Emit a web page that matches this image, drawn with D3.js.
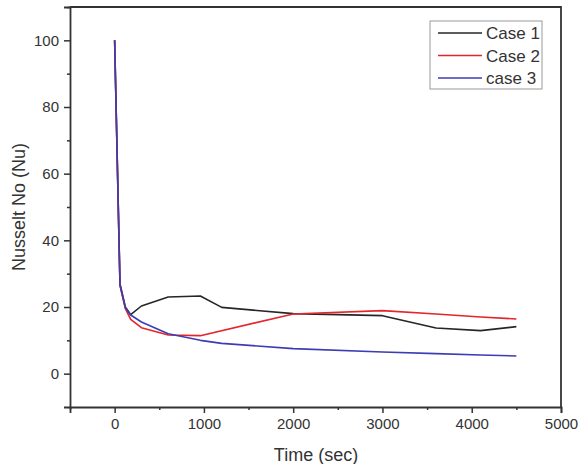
<!DOCTYPE html>
<html lang="en">
	<head>
		<meta charset="UTF-8" />
		<title>Nusselt No vs Time</title>
		<script src="https://d3js.org/d3.v7.min.js"></script>
		<style>
			body { margin: 0; background: #fff; }
			text { font-family: Arial, 'Liberation Sans', sans-serif; fill: #333; }
			.series { fill: none; stroke-width: 1.6; stroke-linejoin: round; }
		</style>
	</head>
	<body>
		<svg id="chart" width="582" height="464"></svg>
		<script>
			// time points (sec)
			var times = [0, 60, 120, 180, 300, 600, 960, 1200, 2000, 3000, 3600, 4100, 4500]
			var timesCase2 = [0, 60, 120, 180, 300, 600, 960, 2000, 3000, 3600, 4100, 4500]

			// Nusselt number per case
			var nuCase1 = [100, 27, 20, 17.7, 20.3, 23.0, 23.3, 19.9, 18.0, 17.4, 13.7, 12.9, 14.1]
			var nuCase2 = [100, 26.5, 19.5, 16.3, 13.8, 11.6, 11.4, 17.9, 18.9, 17.9, 17.0, 16.4]
			var nuCase3 = [100, 26.5, 19.8, 17.6, 15.5, 12.0, 10.0, 9.1, 7.5, 6.5, 6.0, 5.6, 5.3]

			var seriesNames = ['Case 1', 'Case 2', 'case 3']
			var seriesColors = ['#262626', '#e3262b', '#3c3cb4']

			var xTicks = [0, 1000, 2000, 3000, 4000, 5000]
			var yTicks = [0, 20, 40, 60, 80, 100]

			var svg = d3.select('#chart')
			var plotLeft = 70, plotRight = 561, plotTop = 7, plotBottom = 407

			var x = d3.scaleLinear().domain([-500, 5000]).range([plotLeft, plotRight])
			var y = d3.scaleLinear().domain([-10, 110]).range([plotBottom, plotTop])

			// frame top and right
			svg.append('path')
				.attr('d', 'M' + plotLeft + ',' + plotTop + 'H' + plotRight + 'V' + plotBottom)
				.attr('fill', 'none')
				.attr('stroke', '#333')
				.attr('stroke-width', 1.8)

			// minor ticks
			var xMinor = d3.range(-500, 5001, 500).filter(function (d) { return xTicks.indexOf(d) < 0 })
			var yMinor = d3.range(-10, 111, 20).filter(function (d) { return d > -10 })

			svg.append('g')
				.attr('transform', 'translate(0,' + plotBottom + ')')
				.call(d3.axisBottom(x).tickValues(xTicks).tickSize(6).tickPadding(5).tickFormat(d3.format('d')))
			svg.append('g')
				.attr('transform', 'translate(0,' + plotBottom + ')')
				.call(d3.axisBottom(x).tickValues(xMinor).tickSize(3).tickFormat(''))
				.select('.domain').remove()

			svg.append('g')
				.attr('transform', 'translate(' + plotLeft + ',0)')
				.call(d3.axisLeft(y).tickValues(yTicks).tickSize(6).tickPadding(5))
			svg.append('g')
				.attr('transform', 'translate(' + plotLeft + ',0)')
				.call(d3.axisLeft(y).tickValues(yMinor).tickSize(3).tickFormat(''))
				.select('.domain').remove()

			svg.selectAll('.domain').attr('stroke', '#333').attr('stroke-width', 1.8)
			svg.selectAll('.tick line').attr('stroke', '#333').attr('stroke-width', 1.5)
			svg.selectAll('.tick text').style('font-size', '15px').attr('fill', '#333')

			// axis titles
			svg.append('text')
				.attr('x', 316)
				.attr('y', 461)
				.attr('text-anchor', 'middle')
				.style('font-size', '18px')
				.text('Time (sec)')
			svg.append('text')
				.attr('transform', 'translate(25,207) rotate(-90)')
				.attr('text-anchor', 'middle')
				.style('font-size', '18px')
				.text('Nusselt No (Nu)')

			// lines
			var data = [
				d3.zip(times, nuCase1),
				d3.zip(timesCase2, nuCase2),
				d3.zip(times, nuCase3)
			]
			var line = d3.line()
				.x(function (d) { return x(d[0]) })
				.y(function (d) { return y(d[1]) })

			svg.selectAll('.series')
				.data(data)
				.enter()
				.append('path')
				.attr('class', 'series')
				.attr('d', line)
				.attr('stroke', function (d, i) { return seriesColors[i] })

			// legend
			var legend = svg.append('g').attr('transform', 'translate(430,21)')
			legend.append('rect')
				.attr('width', 112)
				.attr('height', 68)
				.attr('fill', '#fff')
				.attr('stroke', '#999')
				.attr('stroke-width', 1)
			seriesNames.forEach(function (name, i) {
				var ly = 12 + i * 22.5
				legend.append('line')
					.attr('x1', 8).attr('x2', 52)
					.attr('y1', ly).attr('y2', ly)
					.attr('stroke', seriesColors[i])
					.attr('stroke-width', 1.6)
				legend.append('text')
					.attr('x', 56)
					.attr('y', ly + 6)
					.style('font-size', '17px')
					.text(name)
			})
		</script>
	</body>
</html>
